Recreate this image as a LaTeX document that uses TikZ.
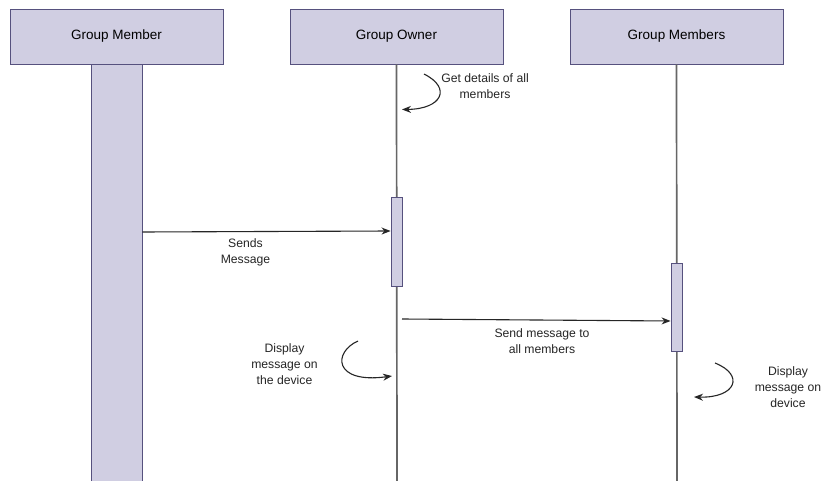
\documentclass[tikz,border=0pt]{standalone}
\usepackage{fontspec}
\setmainfont{Liberation Sans}
\usetikzlibrary{arrows.meta}
\definecolor{boxfill}{HTML}{D0CEE2}
\definecolor{boxline}{HTML}{56517E}
\definecolor{lifegray}{HTML}{666666}
\begin{document}
\begin{tikzpicture}[x=1pt,y=-1pt,
  actor/.style={draw=boxline,fill=boxfill,line width=0.9pt,minimum width=213pt,minimum height=55pt,inner sep=0pt,font=\fontsize{13.5}{16}\selectfont},
  activation/.style={draw=boxline,fill=boxfill,line width=0.9pt,minimum width=11pt,inner sep=0pt},
  lifeline/.style={draw=lifegray,line width=1.7pt},
  msg/.style={draw=black!85,line width=1.1pt,-{Stealth[length=9pt,width=7pt]}},
  lbl/.style={align=center,font=\fontsize{12.2}{16}\selectfont,text=black!85,inner sep=0pt}]
\useasboundingbox[fill=white] (0,0) rectangle (828,481);
% actors
\node[actor] (gm) at (116.5,36.5) {Group Member};
\node[actor] (go) at (396.5,36.5) {Group Owner};
\node[actor] (gms) at (676.5,36.5) {Group Members};
% lifelines
\coordinate (goend) at (397,481);
\coordinate (gmsend) at (677,481);
\node[draw=boxline,fill=boxfill,line width=0.9pt,minimum width=51pt,minimum height=417pt,inner sep=0pt] (bar1) at (116.5,272.5) {};
\draw[lifeline] (go.south) -- (goend);
\draw[lifeline] (gms.south) -- (gmsend);
% activations
\node[activation,minimum height=89pt] (act2) at (396.5,241.5) {};
\node[activation,minimum height=88pt] (act3) at (676.5,307) {};
% messages
\draw[msg] (bar1.east |- 0,232) -- (act2.west |- 0,231);
\node[lbl] (l1) at (245.5,252.5) {Sends\\Message};
\coordinate (m2s) at (402,319);
\draw[msg] (m2s) -- (act3.west |- 0,321);
\node[lbl] (l2) at (542,341.5) {Send message to\\all members};
% self messages
\coordinate (s1a) at (424,74);
\coordinate (s1b) at (402,109.5);
\draw[msg] (s1a) .. controls (452,88) and (442,109) .. (s1b);
\node[lbl] (l3) at (485,86.5) {Get details of all\\members};
\coordinate (s2a) at (358,341);
\coordinate (s2b) at (392,376);
\draw[msg] (s2a) .. controls (333,352) and (333,384) .. (s2b);
\node[lbl] (l4) at (284.5,364) {Display\\message on\\the device};
\coordinate (s3a) at (715,363);
\coordinate (s3b) at (694,397);
\draw[msg] (s3a) .. controls (745,375) and (736,398) .. (s3b);
\node[lbl] (l5) at (788,387) {Display\\message on\\device};
\end{tikzpicture}
\end{document}
